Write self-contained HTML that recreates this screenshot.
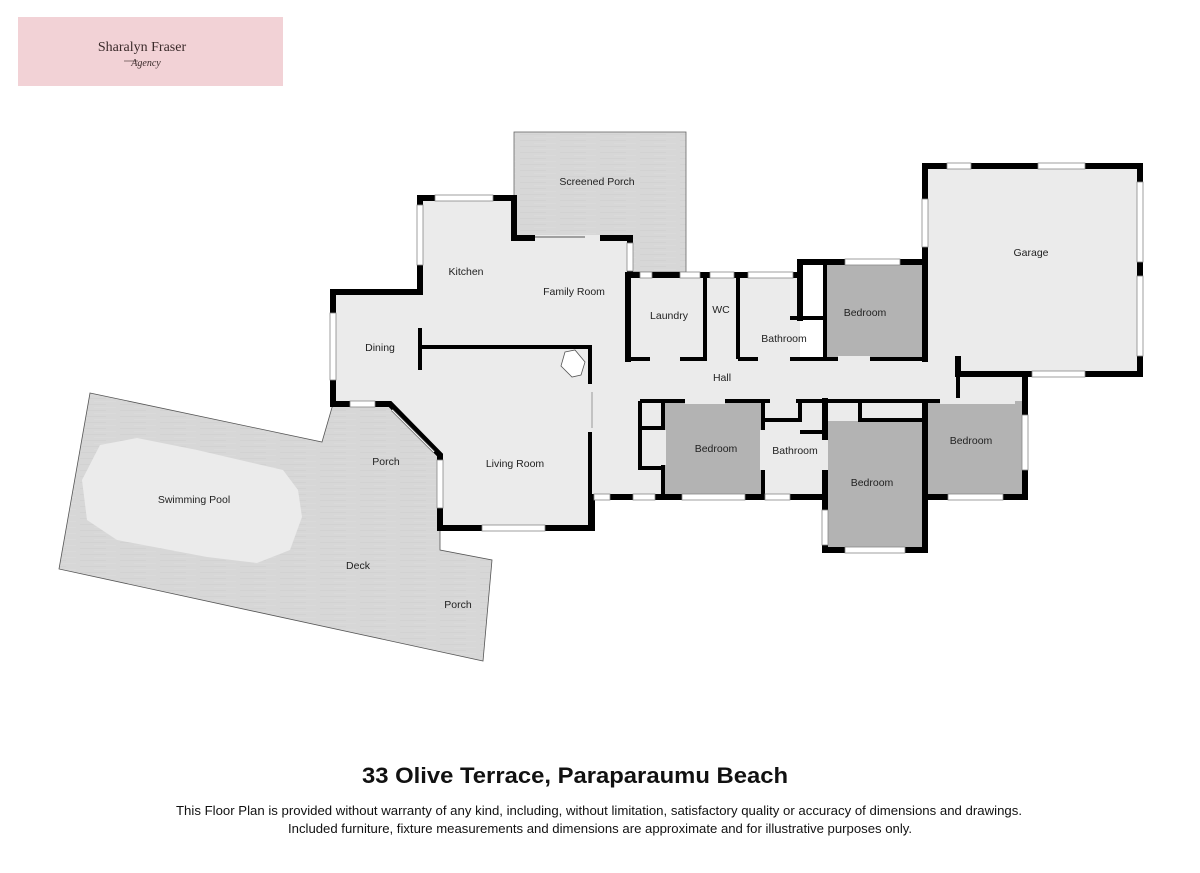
<!DOCTYPE html>
<html><head><meta charset="utf-8"><style>
html,body{margin:0;padding:0;background:#fff;}
svg{display:block;}
.t{font-family:"Liberation Sans",sans-serif;font-size:10.5px;fill:#222;text-anchor:middle;}
</style></head><body>
<svg width="1200" height="873" viewBox="0 0 1200 873" xmlns="http://www.w3.org/2000/svg">
<defs>
<pattern id="wood" width="40" height="6" patternUnits="userSpaceOnUse">
<rect width="40" height="6" fill="#d7d7d7"/>
<rect y="2" width="26" height="1" fill="#d2d2d2"/>
<rect x="14" y="5" width="22" height="1" fill="#dadada"/>
</pattern>
</defs>
<!-- logo -->
<rect x="18" y="17" width="265" height="69" fill="#f2d2d6"/>
<text x="142" y="51" font-family="Liberation Serif,serif" font-size="14" fill="#3a2a2a" text-anchor="middle">Sharalyn Fraser</text>
<text x="146" y="66" font-family="Liberation Serif,serif" font-style="italic" font-size="10" fill="#3a2a2a" text-anchor="middle">Agency</text>
<line x1="124" y1="61" x2="138" y2="61" stroke="#3a2a2a" stroke-width="0.6"/>

<!-- deck -->
<polygon points="90,393 322,442 333,404 390,404 440,455 440,550 492,560 483,661 59,569" fill="url(#wood)" stroke="#555" stroke-width="0.8"/>
<polygon points="137,438 197,450 283,470 298,490 302,517 290,550 257,563 207,557 117,540 87,520 82,480 100,445" fill="#ebebeb"/>
<!-- screened porch -->
<rect x="514" y="132" width="172" height="140" fill="url(#wood)" stroke="#666" stroke-width="0.8"/>

<!-- floors -->
<g fill="#ebebeb">
<polygon points="333,292 420,292 420,198 514,198 514,238 630,238 630,275 628,275 628,359 592,359 592,528 440,528 440,455 390,404 333,404"/>
<rect x="592" y="359" width="366" height="42"/>
<rect x="628" y="275" width="172" height="84"/>
<rect x="592" y="401" width="71" height="99"/>
<rect x="763" y="401" width="62" height="96"/>
<rect x="958" y="376" width="67" height="25"/>
<rect x="925" y="166" width="213" height="209"/>
<rect x="825" y="401" width="100" height="20"/>
</g>
<g fill="#b3b3b3">
<rect x="825" y="262" width="100" height="97"/>
<rect x="663" y="401" width="100" height="96"/>
<rect x="825" y="421" width="100" height="129"/>
<rect x="927" y="401" width="98" height="96"/>
</g>

<!-- walls -->
<g stroke="#000" stroke-width="6" stroke-linecap="square" fill="none">
<polyline points="420,292 333,292 333,404 390,404 440,455 440,528 592,528 592,497"/>
<polyline points="420,292 420,198 514,198 514,238 630,238 630,275"/>
<polyline points="628,275 628,359"/>
<line x1="628" y1="275" x2="800" y2="275"/>
<polyline points="800,318 800,262 925,262 925,166 1140,166 1140,374 958,374 958,359"/>
<line x1="925" y1="262" x2="925" y2="359"/>
<polyline points="1025,376 1025,497 927,497"/>
<polyline points="925,401 925,550 825,550 825,401"/>
<line x1="592" y1="497" x2="825" y2="497"/>
</g>
<g stroke="#000" stroke-width="4" fill="none">
<line x1="420" y1="347" x2="592" y2="347"/>
<line x1="420" y1="328" x2="420" y2="370"/>
<line x1="590" y1="347" x2="590" y2="384"/>
<line x1="590" y1="432" x2="590" y2="528"/>
<polyline points="705,275 705,359 628,359"/>
<line x1="738" y1="275" x2="738" y2="359"/>
<line x1="738" y1="359" x2="925" y2="359"/>
<line x1="825" y1="262" x2="825" y2="359"/>
<line x1="790" y1="318" x2="825" y2="318"/>
<line x1="640" y1="401" x2="958" y2="401"/>
<polyline points="663,401 663,497"/>
<line x1="763" y1="401" x2="763" y2="497"/>
<polyline points="640,401 640,468 663,468"/>
<line x1="640" y1="428" x2="663" y2="428"/>
<polyline points="763,420 800,420 800,401"/>
<polyline points="800,432 825,432"/>
<polyline points="860,401 860,420 925,420"/>
<line x1="958" y1="359" x2="958" y2="401"/>
<line x1="1025" y1="374" x2="1025" y2="401"/>
</g>
<!-- door gaps (light) -->
<g stroke="#ebebeb" stroke-width="6">
<line x1="650" y1="359" x2="680" y2="359"/>
<line x1="709" y1="340" x2="734" y2="340"/>
<line x1="758" y1="359" x2="790" y2="359"/>
<line x1="838" y1="359" x2="870" y2="359"/>
<line x1="600" y1="359" x2="624" y2="359"/>
<line x1="590" y1="390" x2="590" y2="428"/>
<line x1="685" y1="401" x2="725" y2="401"/>
<line x1="770" y1="401" x2="796" y2="401"/>
<line x1="663" y1="430" x2="663" y2="465"/>
<line x1="763" y1="430" x2="763" y2="470"/>
<line x1="825" y1="440" x2="825" y2="470"/>
<line x1="940" y1="401" x2="1015" y2="401"/>
<line x1="925" y1="380" x2="925" y2="399"/>
<line x1="535" y1="238" x2="600" y2="238"/>
</g>
<line x1="535" y1="237" x2="585" y2="237" stroke="#888" stroke-width="1.5"/>
<line x1="592" y1="392" x2="592" y2="428" stroke="#999" stroke-width="1"/>
<!-- windows -->
<g fill="#fff" stroke="#888" stroke-width="0.8">
<rect x="417" y="205" width="6" height="60"/>
<rect x="435" y="195" width="58" height="6"/>
<rect x="627" y="243" width="6" height="28"/>
<rect x="330" y="313" width="6" height="67"/>
<rect x="350" y="401" width="25" height="6"/>
<rect x="437" y="460" width="6" height="48"/>
<rect x="482" y="525" width="63" height="6"/>
<rect x="594" y="494" width="16" height="6"/>
<rect x="633" y="494" width="22" height="6"/>
<rect x="682" y="494" width="63" height="6"/>
<rect x="765" y="494" width="25" height="6"/>
<rect x="948" y="494" width="55" height="6"/>
<rect x="822" y="510" width="6" height="35"/>
<rect x="845" y="547" width="60" height="6"/>
<rect x="1022" y="415" width="6" height="55"/>
<rect x="640" y="272" width="12" height="6"/>
<rect x="680" y="272" width="20" height="6"/>
<rect x="710" y="272" width="24" height="6"/>
<rect x="748" y="272" width="45" height="6"/>
<rect x="845" y="259" width="55" height="6"/>
<rect x="947" y="163" width="24" height="6"/>
<rect x="1038" y="163" width="47" height="6"/>
<rect x="922" y="199" width="6" height="48"/>
<rect x="1137" y="182" width="6" height="80"/>
<rect x="1137" y="276" width="6" height="80"/>
<rect x="1032" y="371" width="53" height="6"/>
</g>
<line x1="392" y1="410" x2="434" y2="452" stroke="#666" stroke-width="2.5"/>
<line x1="392" y1="410" x2="434" y2="452" stroke="#fff" stroke-width="1"/>
<polygon points="565,352 575,350 585,362 581,375 572,377 561,366" fill="#fff" stroke="#555" stroke-width="0.8"/>

<!-- labels -->
<text class="t" x="597" y="185">Screened Porch</text>
<text class="t" x="466" y="275">Kitchen</text>
<text class="t" x="574" y="295">Family Room</text>
<text class="t" x="380" y="351">Dining</text>
<text class="t" x="669" y="319">Laundry</text>
<text class="t" x="721" y="313">WC</text>
<text class="t" x="784" y="342">Bathroom</text>
<text class="t" x="865" y="316">Bedroom</text>
<text class="t" x="1031" y="256">Garage</text>
<text class="t" x="722" y="381">Hall</text>
<text class="t" x="716" y="452">Bedroom</text>
<text class="t" x="795" y="454">Bathroom</text>
<text class="t" x="872" y="486">Bedroom</text>
<text class="t" x="971" y="444">Bedroom</text>
<text class="t" x="515" y="467">Living Room</text>
<text class="t" x="386" y="465">Porch</text>
<text class="t" x="194" y="503">Swimming Pool</text>
<text class="t" x="358" y="569">Deck</text>
<text class="t" x="458" y="608">Porch</text>

<text x="575" y="783" font-family="Liberation Sans,sans-serif" font-weight="bold" font-size="22" fill="#111" text-anchor="middle" textLength="426" lengthAdjust="spacingAndGlyphs">33 Olive Terrace, Paraparaumu Beach</text>
<text x="599" y="815" font-family="Liberation Sans,sans-serif" font-size="12.5" fill="#111" text-anchor="middle" textLength="846" lengthAdjust="spacingAndGlyphs">This Floor Plan is provided without warranty of any kind, including, without limitation, satisfactory quality or accuracy of dimensions and drawings.</text>
<text x="600" y="833" font-family="Liberation Sans,sans-serif" font-size="12.5" fill="#111" text-anchor="middle" textLength="624" lengthAdjust="spacingAndGlyphs">Included furniture, fixture measurements and dimensions are approximate and for illustrative purposes only.</text>
</svg>
</body></html>
